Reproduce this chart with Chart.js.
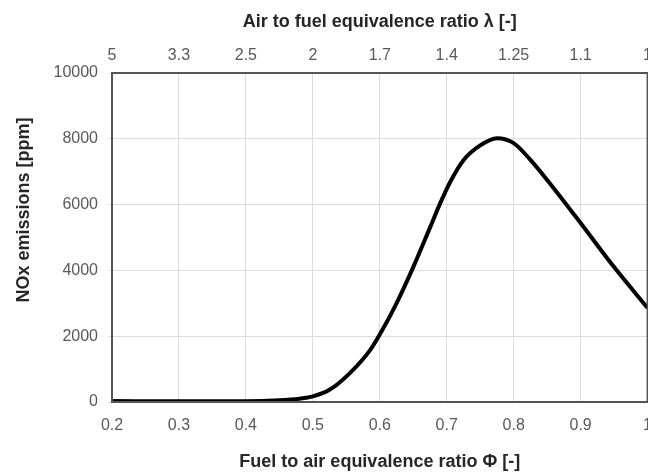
<!DOCTYPE html>
<html>
<head>
<meta charset="utf-8">
<script src="https://cdn.jsdelivr.net/npm/chart.js"></script>
<style>
  html, body { margin: 0; padding: 0; background: #fff; overflow: hidden; }
  #wrap { width: 666px; height: 476px; }
</style>
</head>
<body>
<div id="wrap"><canvas id="noxChart"></canvas></div>
<script>
// fuel to air equivalence ratio (bottom axis) and NOx emissions [ppm]
const phi = [0.2, 0.3, 0.4, 0.45, 0.48, 0.5, 0.525, 0.555, 0.585, 0.6, 0.625, 0.65, 0.675, 0.69, 0.705, 0.725, 0.75, 0.775, 0.8, 0.825, 0.85, 0.9, 0.95, 1.0];
const nox = [30, 20, 20, 50, 100, 170, 370, 870, 1560, 2050, 3000, 4100, 5300, 6030, 6680, 7350, 7800, 8020, 7870, 7360, 6750, 5440, 4100, 2860];

// top axis: air to fuel ratio labels, one per bottom tick
const phiTicks = [0.2, 0.3, 0.4, 0.5, 0.6, 0.7, 0.8, 0.9, 1.0];
const lambdaLabels = ['5', '3.3', '2.5', '2', '1.7', '1.4', '1.25', '1.1', '1'];

const FONT = 'Arial, "Liberation Sans", sans-serif';
const tickFont = { family: FONT, size: 16 };
const titleFont = { family: FONT, size: 18, weight: 'bold' };

const frame = {
  id: 'frame',
  afterDatasetsDraw(chart) {
    const a = chart.chartArea, c = chart.ctx;
    c.save();
    c.strokeStyle = '#555';
    c.lineWidth = 2;
    c.strokeRect(a.left, a.top, a.right - a.left, a.bottom - a.top);
    c.restore();
  }
};

const ctx = document.getElementById('noxChart').getContext('2d');
const chart = new Chart(ctx, {
  type: 'line',
  data: {
    datasets: [{
      data: phi.map((p, i) => ({ x: p, y: nox[i] })),
      borderColor: '#000',
      borderWidth: 4,
      pointRadius: 0,
      fill: false,
      cubicInterpolationMode: 'monotone'
    }]
  },
  options: {
    responsive: true,
    maintainAspectRatio: false,
    animation: false,
    layout: { padding: 0 },
    plugins: { legend: { display: false }, tooltip: { enabled: false } },
    scales: {
      x: {
        type: 'linear',
        position: 'bottom',
        min: 0.2, max: 1.0,
        afterBuildTicks: s => { s.ticks = phiTicks.map(v => ({ value: v })); },
        afterFit: s => { s.height = 74; },
        ticks: {
          color: '#595959', padding: 14, maxRotation: 0, font: tickFont,
          callback: v => v === 1 ? '1' : v.toFixed(1)
        },
        grid: { color: '#dcdcdc', drawTicks: false },
        border: { display: false },
        title: {
          display: true, text: 'Fuel to air equivalence ratio \u03a6 [-]',
          color: '#262626', font: titleFont,
          padding: { top: 0, bottom: 3 }
        }
      },
      x2: {
        type: 'linear',
        position: 'top',
        min: 0.2, max: 1.0,
        afterBuildTicks: s => { s.ticks = phiTicks.map(v => ({ value: v })); },
        afterFit: s => { s.height = 73; },
        ticks: {
          color: '#595959', padding: 8, maxRotation: 0, font: tickFont,
          callback: (v, i) => lambdaLabels[i]
        },
        grid: { display: false, drawTicks: false },
        border: { display: false },
        title: {
          display: true, text: 'Air to fuel equivalence ratio \u03bb [-]',
          color: '#262626', font: titleFont,
          padding: { top: 11, bottom: 0 }
        }
      },
      y: {
        min: 0, max: 10000,
        afterFit: s => { s.width = 112; },
        ticks: {
          stepSize: 2000, color: '#595959', padding: 10, font: tickFont,
          callback: v => String(v)
        },
        grid: { color: '#dcdcdc', tickLength: 4 },
        border: { display: false },
        title: {
          display: true,
          // leading spaces nudge the label up, as in the original
          text: '           NOx emissions [ppm]',
          color: '#262626', font: titleFont,
          padding: { top: 13, bottom: 0 }
        }
      }
    }
  },
  plugins: [frame]
});
</script>
</body>
</html>
